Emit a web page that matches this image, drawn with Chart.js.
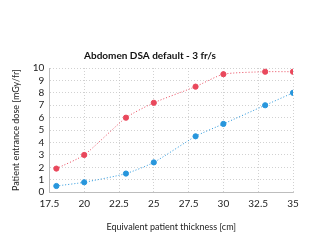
<!DOCTYPE html>
<html lang="en">
<head>
    <meta charset="UTF-8">
    <title>Abdomen DSA default</title>
    <script src="https://cdn.jsdelivr.net/npm/chart.js@4.4.1/dist/chart.umd.min.js"></script>
    <style>
        html, body { margin: 0; padding: 0; background: #fff; }
        #wrap { width: 311px; height: 240px; }
    </style>
</head>
<body>
    <div id="wrap"><canvas id="chart"></canvas></div>
    <script>
        // thickness [cm]
        const thickness = [18, 20, 23, 25, 28, 30, 33, 35];
        // dose [mGy/fr]
        const doseRed = [1.9, 3.0, 6.0, 7.2, 8.5, 9.5, 9.7, 9.7];
        const doseBlue = [0.5, 0.8, 1.5, 2.4, 4.5, 5.5, 7.0, 8.0];

        const xTicks = [17.5, 20, 22.5, 25, 27.5, 30, 32.5, 35];
        const yTicks = [0, 1, 2, 3, 4, 5, 6, 7, 8, 9, 10];

        const red = '#e9485c';
        const blue = '#2896dc';

        function pts(ys) {
            return thickness.map((x, i) => ({ x: x, y: ys[i] }));
        }

        const font = 'Lato, "Open Sans", sans-serif';
        const grid = {
            color: '#bdbdbd',
            lineWidth: 0.7,
            drawTicks: false
        };

        new Chart(document.getElementById('chart'), {
            type: 'scatter',
            data: {
                datasets: [
                    {
                        data: pts(doseRed),
                        showLine: true,
                        borderColor: red,
                        backgroundColor: red,
                        borderWidth: 1,
                        borderDash: [1, 2],
                        pointRadius: 2.6,
                        tension: 0.2
                    },
                    {
                        data: pts(doseBlue),
                        showLine: true,
                        borderColor: blue,
                        backgroundColor: blue,
                        borderWidth: 1,
                        borderDash: [1, 2],
                        pointRadius: 2.6,
                        tension: 0.2
                    }
                ]
            },
            options: {
                responsive: true,
                maintainAspectRatio: false,
                animation: false,
                layout: { padding: { left: 7, right: 18, top: 50, bottom: 4 } },
                plugins: {
                    legend: { display: false },
                    tooltip: { enabled: false },
                    title: {
                        display: true,
                        text: 'Abdomen DSA default - 3 fr/s',
                        color: '#111',
                        font: { family: font, size: 10, weight: 'bold' },
                        padding: { top: 0, bottom: 6 }
                    }
                },
                scales: {
                    x: {
                        type: 'linear',
                        min: 17.5,
                        max: 35,
                        afterBuildTicks: axis => { axis.ticks = xTicks.map(v => ({ value: v })); },
                        grid: grid,
                        border: { display: true, color: '#bdbdbd', dash: [1, 2] },
                        ticks: { color: '#222', font: { family: font, size: 10 }, padding: 6, autoSkip: false, maxRotation: 0 },
                        title: {
                            display: true,
                            text: 'Equivalent patient thickness [cm]',
                            color: '#222',
                            font: { family: font, size: 9 },
                            padding: { top: 5 }
                        }
                    },
                    y: {
                        min: 0,
                        max: 10,
                        afterBuildTicks: axis => { axis.ticks = yTicks.map(v => ({ value: v })); },
                        grid: grid,
                        border: { display: true, color: '#bdbdbd', dash: [1, 2] },
                        ticks: { color: '#222', font: { family: font, size: 10 }, padding: 5, autoSkip: false },
                        title: {
                            display: true,
                            text: 'Patient entrance dose [mGy/fr]',
                            color: '#222',
                            font: { family: font, size: 9 },
                            padding: { bottom: 6 }
                        }
                    }
                }
            }
        });
    </script>
</body>
</html>
